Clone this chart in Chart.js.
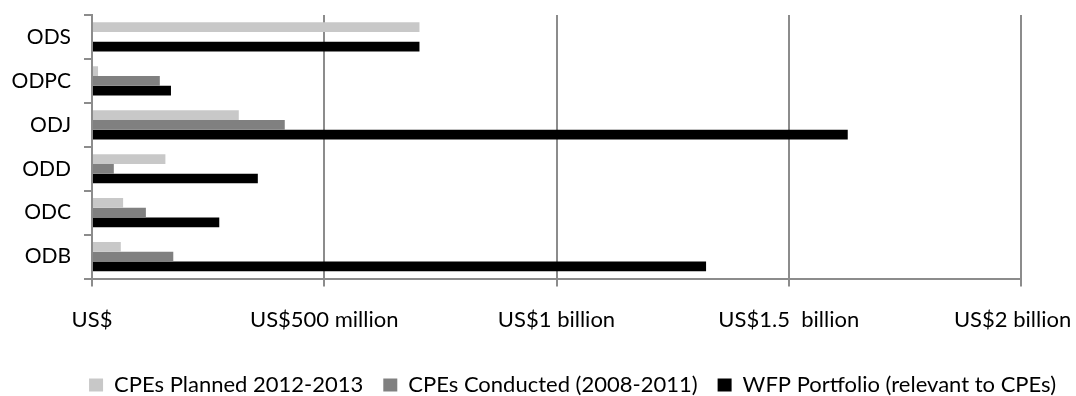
<!DOCTYPE html>
<html>
<head>
<meta charset="utf-8">
<script src="https://cdn.jsdelivr.net/npm/chart.js@4/dist/chart.umd.min.js"></script>
<style>
  html, body { margin:0; padding:0; background:#fff; }
</style>
</head>
<body>
<canvas id="c" width="1076" height="396"></canvas>
<script>
// offices, top to bottom
const offices = ['ODS', 'ODPC', 'ODJ', 'ODD', 'ODC', 'ODB'];
// values in US$ million
const plannedCPE = [705, 13, 316, 158, 67, 62];
const conductedCPE = [0, 146, 415, 47, 116, 175];
const wfpPortfolio = [705, 170, 1627, 357, 274, 1322];
const xTickLabels = ['US$', 'US$500 million', 'US$1 billion', 'US$1.5  billion', 'US$2 billion   '];

const font = "Lato, 'Open Sans', sans-serif";
const gridGray = '#8c8c8c';

new Chart(document.getElementById('c'), {
  type: 'bar',
  data: {
    labels: offices,
    datasets: [
      { label: 'CPEs Planned 2012-2013', data: plannedCPE, backgroundColor: '#c8c8c8' },
      { label: 'CPEs Conducted (2008-2011)', data: conductedCPE, backgroundColor: '#808080' },
      { label: 'WFP Portfolio (relevant to CPEs)', data: wfpPortfolio, backgroundColor: '#000000' }
    ]
  },
  options: {
    indexAxis: 'y',
    responsive: false,
    animation: false,
    categoryPercentage: 0.665,
    barPercentage: 1,
    layout: { padding: { top: 15, right: 0, left: 0, bottom: -10 } },
    scales: {
      x: {
        min: 0, max: 2000,
        ticks: {
          stepSize: 500,
          color: '#000',
          font: { family: font, size: 22 },
          padding: 20,
          maxRotation: 0,
          callback: (v, i) => xTickLabels[i]
        },
        grid: { color: gridGray, lineWidth: 2, tickLength: 8 },
        border: { color: gridGray, width: 2 },
        // keep the plot right edge where the reference has it
        afterFit: s => { s.paddingRight = 55; s.paddingLeft = 0; s.height += 1; }
      },
      y: {
        ticks: { color: '#000', font: { family: font, size: 21 }, padding: 13 },
        grid: { drawOnChartArea: false, color: gridGray, lineWidth: 2, tickLength: 8, offset: true },
        border: { color: gridGray, width: 2 },
        afterFit: s => { s.width = 92; s.paddingTop = 0; s.paddingBottom = 0; }
      }
    },
    plugins: {
      legend: {
        position: 'bottom',
        align: 'end',
        labels: {
          color: '#000',
          font: { family: font, size: 22 },
          boxWidth: 14, boxHeight: 13,
          padding: 20
        }
      },
      tooltip: { enabled: false }
    }
  }
});
</script>
</body>
</html>
